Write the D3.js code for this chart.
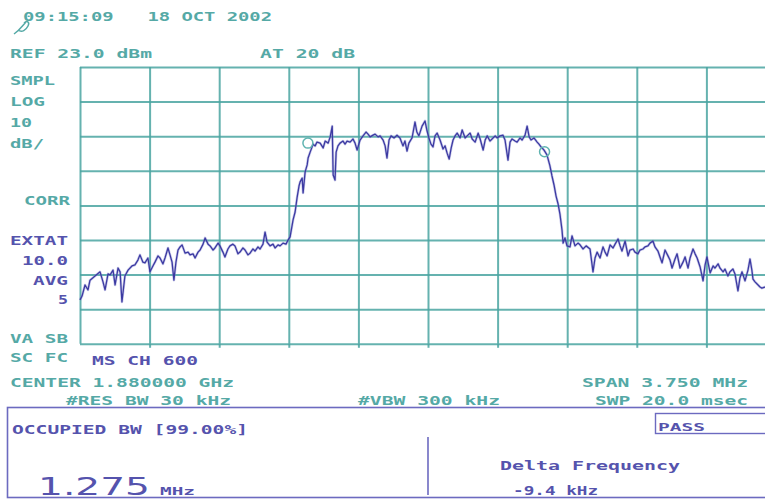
<!DOCTYPE html>
<html lang="en">
<head>
<meta charset="utf-8">
<title>Occupied BW</title>
<script src="https://d3js.org/d3.v7.min.js"></script>
<style>
  body { margin: 0; background: #fff; }
  svg text { font-family: "DejaVu Sans Mono", monospace; font-weight: bold; white-space: pre; }
  .teal { fill: #55a9a6; }
  .ind { fill: #5553ad; }
  .grid line { stroke: #4aa5a1; stroke-width: 2; opacity: 0.85; }
  .grid path { display: none; }
</style>
</head>
<body>
<div id="chart"></div>
<script>
"use strict"
// sweep settings
var refLevel = 23.0, dbPerDiv = 10, nDivY = 8;
var centerMHz = 1880.0, spanMHz = 3.75, nDivX = 10;

// trace: [frequency MHz, level dBm]
var trace = [
  [1878.125,-44.3],[1878.136,-43.2],[1878.152,-40.0],[1878.168,-41.4],[1878.179,-38.6],[1878.206,-37.4],
  [1878.233,-36.2],[1878.249,-39.1],[1878.260,-41.4],[1878.276,-36.8],[1878.287,-37.1],[1878.303,-35.7],
  [1878.314,-40.0],[1878.330,-35.1],[1878.341,-36.2],[1878.351,-44.9],[1878.367,-37.4],[1878.384,-35.7],
  [1878.405,-34.5],[1878.421,-34.2],[1878.437,-32.8],[1878.448,-31.3],[1878.464,-33.4],[1878.475,-33.6],
  [1878.491,-32.2],[1878.502,-36.2],[1878.518,-34.5],[1878.529,-33.4],[1878.545,-31.6],[1878.556,-32.2],
  [1878.572,-33.9],[1878.583,-32.2],[1878.599,-29.3],[1878.610,-31.3],[1878.621,-33.4],[1878.631,-38.6],
  [1878.642,-33.4],[1878.653,-29.9],[1878.664,-29.0],[1878.675,-28.4],[1878.691,-30.8],[1878.707,-30.5],
  [1878.718,-31.3],[1878.734,-31.0],[1878.745,-32.2],[1878.761,-30.5],[1878.772,-29.9],[1878.788,-28.2],
  [1878.799,-26.4],[1878.815,-28.2],[1878.826,-28.7],[1878.842,-29.9],[1878.852,-29.3],[1878.869,-27.9],
  [1878.879,-28.7],[1878.895,-30.5],[1878.906,-31.9],[1878.922,-29.6],[1878.933,-28.7],[1878.949,-28.2],
  [1878.960,-28.7],[1878.976,-31.0],[1878.987,-30.5],[1879.003,-29.3],[1879.014,-29.9],[1879.030,-31.3],
  [1879.041,-30.8],[1879.057,-29.6],[1879.068,-30.2],[1879.084,-29.0],[1879.095,-29.6],[1879.111,-28.2],
  [1879.122,-24.7],[1879.133,-27.6],[1879.149,-28.7],[1879.165,-28.2],[1879.176,-29.3],[1879.192,-28.4],
  [1879.203,-28.7],[1879.219,-27.9],[1879.235,-28.2],[1879.246,-27.0],[1879.257,-26.1],[1879.273,-21.2],
  [1879.284,-18.9],[1879.295,-14.6],[1879.305,-11.4],[1879.311,-10.2],[1879.322,-9.1],[1879.327,-13.4],
  [1879.338,-7.3],[1879.349,-5.3],[1879.354,-3.3],[1879.365,-1.6],[1879.381,0.7],[1879.392,0.2],
  [1879.402,1.3],[1879.419,1.0],[1879.435,-0.4],[1879.446,1.6],[1879.462,1.0],[1879.473,2.8],
  [1879.484,5.9],[1879.489,-8.2],[1879.499,-9.7],[1879.505,-1.6],[1879.515,0.2],[1879.526,1.0],
  [1879.542,1.6],[1879.553,0.7],[1879.564,1.6],[1879.580,1.3],[1879.596,2.2],[1879.607,1.0],
  [1879.618,-1.0],[1879.634,1.9],[1879.650,3.1],[1879.666,4.2],[1879.677,3.6],[1879.688,2.8],
  [1879.704,3.3],[1879.715,3.6],[1879.731,2.8],[1879.742,3.1],[1879.758,1.9],[1879.769,0.2],
  [1879.779,-3.3],[1879.790,1.9],[1879.801,3.1],[1879.817,2.5],[1879.833,3.3],[1879.849,2.5],
  [1879.865,0.2],[1879.876,1.6],[1879.887,-1.3],[1879.897,1.0],[1879.914,2.5],[1879.930,7.1],
  [1879.940,4.2],[1879.951,3.1],[1879.968,5.9],[1879.984,7.4],[1879.995,4.5],[1880.005,2.5],
  [1880.016,0.7],[1880.027,-0.1],[1880.038,3.1],[1880.049,3.9],[1880.065,1.9],[1880.081,-0.7],
  [1880.092,0.2],[1880.103,-1.9],[1880.114,-3.6],[1880.125,-0.4],[1880.135,1.9],[1880.146,3.1],
  [1880.157,3.9],[1880.173,2.5],[1880.184,4.8],[1880.200,2.5],[1880.211,3.1],[1880.227,3.9],
  [1880.238,2.2],[1880.254,1.3],[1880.270,3.9],[1880.281,2.2],[1880.297,-1.0],[1880.308,1.9],
  [1880.319,3.1],[1880.334,1.6],[1880.345,2.2],[1880.362,3.1],[1880.372,2.5],[1880.388,3.1],
  [1880.404,3.3],[1880.415,1.9],[1880.431,-3.9],[1880.442,1.3],[1880.453,2.2],[1880.469,1.6],
  [1880.480,1.3],[1880.496,2.5],[1880.507,1.9],[1880.523,3.3],[1880.534,5.9],[1880.545,2.8],
  [1880.555,1.9],[1880.571,2.5],[1880.588,1.3],[1880.598,0.7],[1880.609,-0.1],[1880.625,-1.0],
  [1880.641,-2.4],[1880.657,-5.6],[1880.668,-8.5],[1880.679,-11.1],[1880.690,-14.3],[1880.701,-16.6],
  [1880.711,-19.5],[1880.722,-24.1],[1880.728,-27.9],[1880.738,-26.4],[1880.749,-28.7],[1880.765,-29.0],
  [1880.776,-25.8],[1880.792,-28.7],[1880.808,-27.9],[1880.819,-28.4],[1880.835,-29.6],[1880.852,-28.7],
  [1880.873,-29.6],[1880.889,-36.2],[1880.900,-32.2],[1880.911,-30.5],[1880.927,-32.2],[1880.943,-29.0],
  [1880.954,-30.5],[1880.965,-31.6],[1880.981,-28.4],[1880.997,-29.3],[1881.008,-28.2],[1881.024,-26.7],
  [1881.035,-28.7],[1881.045,-30.2],[1881.062,-27.3],[1881.078,-31.6],[1881.088,-29.9],[1881.105,-29.6],
  [1881.115,-30.5],[1881.131,-31.0],[1881.142,-29.9],[1881.158,-29.6],[1881.169,-29.0],[1881.185,-28.7],
  [1881.196,-27.9],[1881.212,-27.3],[1881.223,-29.0],[1881.239,-30.2],[1881.250,-31.9],[1881.261,-33.6],
  [1881.277,-29.9],[1881.293,-31.6],[1881.304,-32.8],[1881.315,-35.1],[1881.331,-32.5],[1881.342,-31.0],
  [1881.358,-35.1],[1881.374,-33.4],[1881.385,-31.9],[1881.401,-35.1],[1881.412,-32.2],[1881.428,-29.6],
  [1881.439,-31.0],[1881.450,-32.2],[1881.466,-34.8],[1881.482,-38.8],[1881.493,-34.2],[1881.503,-31.9],
  [1881.520,-36.5],[1881.536,-34.5],[1881.546,-35.1],[1881.563,-33.9],[1881.573,-35.1],[1881.590,-36.2],
  [1881.600,-35.4],[1881.616,-37.4],[1881.627,-36.2],[1881.643,-35.4],[1881.654,-36.8],[1881.670,-41.7],
  [1881.681,-37.9],[1881.692,-36.2],[1881.708,-38.8],[1881.724,-35.7],[1881.735,-32.5],[1881.745,-35.7],
  [1881.751,-38.3],[1881.762,-39.1],[1881.773,-39.7],[1881.789,-40.6],[1881.799,-40.9],[1881.815,-40.6],
  [1881.843,-41.2],[1881.875,-40.4]
];

// occupied bandwidth markers (lower / upper edge)
var obwMarkers = [[1879.353, 1.0], [1880.628, -1.5]];

// annotation text
var headerText = "09:15:09   18 OCT 2002";
var sideLabels = [
  ["SMPL", "teal"], ["LOG", "teal"], ["10", "teal"], ["dB/", "teal"], ["CORR", "teal"],
  ["EXTAT", "ind"], ["10.0", "ind"], ["AVG", "ind"], ["5", "ind"], ["VA SB", "teal"], ["SC FC", "teal"]
];
var occBwValue = "1.275", occBwUnit = "MHz";
var deltaFreq = "-9.4 kHz";

function draw() {
  var W = 765, H = 502;
  var svg = d3.select("#chart").append("svg").attr("width", W).attr("height", H);

  var left = 80, top = 67, divW = 69.6, divH = 34.6;
  var x = d3.scaleLinear()
    .domain([centerMHz - spanMHz / 2, centerMHz + spanMHz / 2])
    .range([left, left + nDivX * divW]);
  var y = d3.scaleLinear()
    .domain([refLevel - nDivY * dbPerDiv, refLevel])
    .range([top + nDivY * divH, top]);

  // graticule via axes
  var xDivs = d3.range(nDivX + 1).map(i => x.domain()[0] + i * spanMHz / nDivX);
  var yDivs = d3.range(nDivY + 1).map(i => refLevel - i * dbPerDiv);
  svg.append("g").attr("class", "grid")
    .attr("transform", "translate(0," + y.range()[0] + ")")
    .call(d3.axisBottom(x).tickValues(xDivs).tickFormat("").tickSizeInner(-(y.range()[0] - top)).tickSizeOuter(0));
  svg.append("g").attr("class", "grid")
    .attr("transform", "translate(0," + y.range()[0] + ")")
    .call(d3.axisBottom(x).tickValues(xDivs.slice(1, -1)).tickFormat("").tickSize(4));
  svg.append("g").attr("class", "grid")
    .attr("transform", "translate(" + left + ",0)")
    .call(d3.axisRight(y).tickValues(yDivs).tickFormat("").tickSizeInner(x.range()[1] - left).tickSizeOuter(0));

  // trace
  var line = d3.line().x(d => x(d[0])).y(d => y(d[1]));
  svg.append("path").datum(trace)
    .attr("d", line)
    .attr("fill", "none")
    .attr("stroke", "#8a8ad0")
    .attr("stroke-width", 2.6)
    .attr("opacity", 0.45)
    .attr("stroke-linejoin", "round");
  svg.append("path").datum(trace)
    .attr("d", line)
    .attr("fill", "none")
    .attr("stroke", "#3c3aa2")
    .attr("stroke-width", 1.3)
    .attr("stroke-linejoin", "round");

  svg.selectAll(".mk").data(obwMarkers).enter().append("circle")
    .attr("class", "mk")
    .attr("cx", d => x(d[0])).attr("cy", d => y(d[1])).attr("r", 5)
    .attr("fill", "none").attr("stroke", "#5fb3b0").attr("stroke-width", 1.5);

  function txt(s, cls, tx, ty, len, size) {
    var t = svg.append("text").attr("class", cls)
      .attr("x", tx).attr("y", ty)
      .attr("xml:space", "preserve")
      .style("font-size", (size || 12) + "px")
      .text(s);
    if (len) t.attr("textLength", len).attr("lengthAdjust", "spacingAndGlyphs");
    return t;
  }

  // logo squiggle
  svg.append("path")
    .attr("d", "M14,34 C20,30 22,26 26,22 M18,30 C22,33 26,30 28,26 C30,22 27,20 24,23")
    .attr("fill", "none").attr("stroke", "#55a9a6").attr("stroke-width", 1.5);

  txt(headerText, "teal", 23, 21, 249, 13);
  txt("REF 23.0 dBm", "teal", 10, 58, 142);
  txt("AT 20 dB", "teal", 260, 58, 95);

  var sidePos = [
    [10, 85, 45], [10, 106, 35], [10, 127, 22], [10, 148, 34], [24, 205, 46],
    [10, 245, 58], [22, 265, 46], [33, 285, 35], [58, 304, 10], [10, 343, 58], [10, 362, 58]
  ];
  sideLabels.forEach((d, i) => txt(d[0], d[1], sidePos[i][0], sidePos[i][1], sidePos[i][2]));

  txt("MS CH 600", "ind", 92, 365, 106);
  txt("CENTER " + (centerMHz / 1000).toFixed(6) + " GHz", "teal", 10, 387, 224);
  txt("SPAN " + spanMHz.toFixed(3) + " MHz", "teal", 582, 387, 166);
  txt("#RES BW 30 kHz", "teal", 66, 405, 165);
  txt("#VBW 300 kHz", "teal", 358, 405, 142);
  txt("SWP 20.0 msec", "teal", 595, 405, 153);

  // result box
  var box = "#6c6ac0";
  svg.append("rect").attr("x", 7.5).attr("y", 407.5).attr("width", 820).attr("height", 90)
    .attr("fill", "none").attr("stroke", box).attr("stroke-width", 1.6);
  svg.append("line").attr("x1", 428).attr("x2", 428).attr("y1", 437).attr("y2", 495)
    .attr("stroke", box).attr("stroke-width", 1.6);
  svg.append("rect").attr("x", 655.5).attr("y", 413.5).attr("width", 130).attr("height", 20)
    .attr("fill", "none").attr("stroke", box).attr("stroke-width", 1.4);

  txt("OCCUPIED BW [99.00%]", "ind", 12, 434, 236);
  txt("PASS", "ind", 658, 431, 47, 11);
  txt("Delta Frequency", "ind", 500, 470, 180, 13);
  txt(deltaFreq, "ind", 513, 495, 85);
  txt(occBwValue, "ind", 38, 495, 112, 25)
    .style("font-family", "'DejaVu Sans', sans-serif").style("font-weight", "normal");
  txt(occBwUnit, "ind", 160, 495, 35, 11);
}

draw();
</script>
</body>
</html>
